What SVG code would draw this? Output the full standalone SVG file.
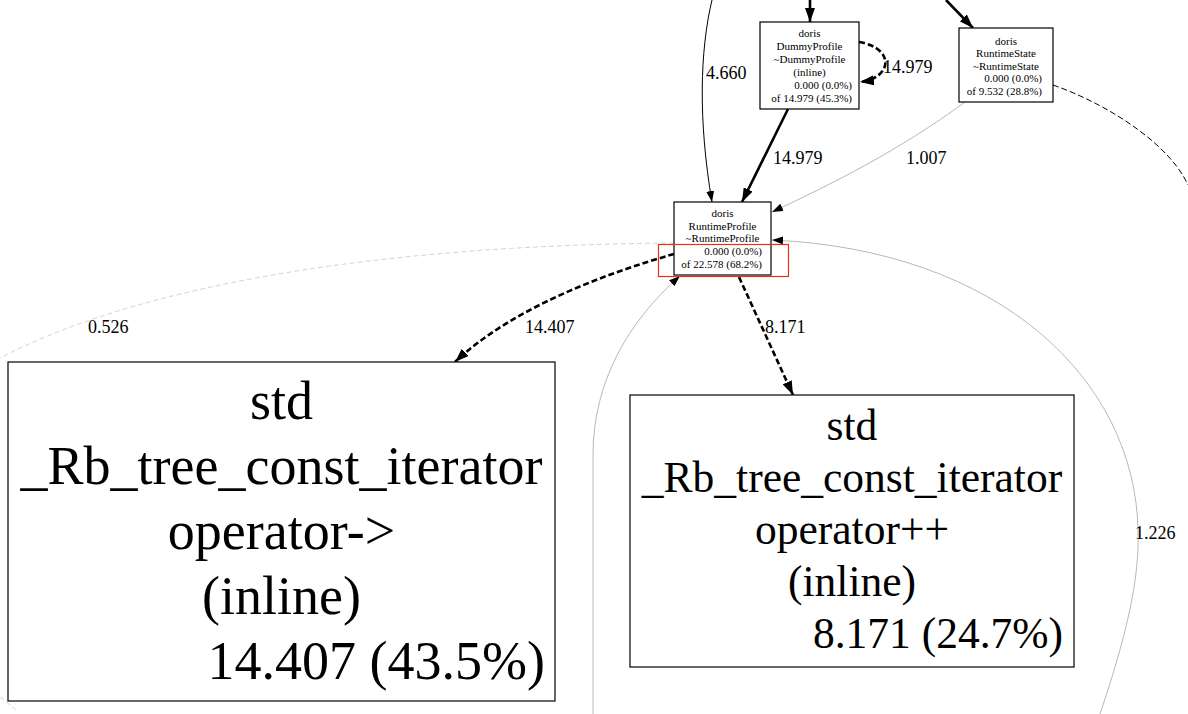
<svg xmlns="http://www.w3.org/2000/svg" width="1188" height="714" viewBox="0 0 1188 714">
<style>
text{font-family:"Liberation Serif","Times New Roman",serif;fill:#000}
.n{font-size:11px}
.c{text-anchor:middle}
.r{text-anchor:end}
.lbl{font-size:18px}
.box{fill:#fff;stroke:#000;stroke-width:1.2}
.e{fill:none;stroke:#000;stroke-width:1}
.thick{fill:none;stroke:#000;stroke-width:2.6}
.dash{stroke-dasharray:6,3}
.gray{fill:none;stroke:#b8b8b8;stroke-width:1}
.lgray{fill:none;stroke:#d4d4d4;stroke-width:1;stroke-dasharray:5,3}
.big1{font-size:54px}
.big2{font-size:43.5px}
</style>
<defs>
<marker id="ah" viewBox="0 0 11 8" refX="11" refY="4" markerWidth="11" markerHeight="8" markerUnits="userSpaceOnUse" orient="auto"><path d="M0,0 L11,4 L0,8 z" fill="#000"/></marker>
<marker id="ahb" viewBox="0 0 14 10" refX="14" refY="5" markerWidth="14" markerHeight="10" markerUnits="userSpaceOnUse" orient="auto"><path d="M0,0 L14,5 L0,10 z" fill="#000"/></marker>
</defs>
<rect width="1188" height="714" fill="#fff"/>
<g id="edges">
  <path class="thick" d="M810,0 L810,22" marker-end="url(#ahb)"/>
  <path class="thick" d="M946,0 L973,28" marker-end="url(#ahb)"/>
  <path class="e" d="M712,0 C700,50 698,120 712,202" marker-end="url(#ah)"/>
  <text class="lbl" x="706" y="79">4.660</text>
  <path class="thick dash" d="M859,42 C895,48 893,78 860,82" marker-end="url(#ahb)"/>
  <text class="lbl" x="883" y="73">14.979</text>
  <path class="thick" d="M788,109 L742,202" marker-end="url(#ahb)"/>
  <text class="lbl" x="773" y="164">14.979</text>
  <path class="gray" d="M965,102 C900,150 830,185 772,212" marker-end="url(#ah)"/>
  <text class="lbl" x="906" y="164">1.007</text>
  <path class="e dash" d="M1053,85 C1110,105 1170,145 1188,185"/>
  <path class="lgray" d="M674,243 C400,245 150,280 0,358"/>
  <path class="lgray" d="M0,697 Q8,703 16,710"/>
  <text class="lbl" x="88" y="333">0.526</text>
  <path class="thick dash" d="M674,254 C600,275 510,310 455,362" marker-end="url(#ahb)"/>
  <text class="lbl" x="525" y="333">14.407</text>
  <path class="thick dash" d="M739,277 L793,395" marker-end="url(#ahb)"/>
  <text class="lbl" x="765" y="333">8.171</text>
  <path class="gray" d="M593,714 L593,455 C593,380 630,320 680,276" marker-end="url(#ah)"/>
  <path class="gray" d="M1100,714 C1125,640 1140,580 1138,530 C1135,380 1000,250 772,240" marker-end="url(#ah)"/>
  <text class="lbl" x="1135" y="539">1.226</text>
</g>
<g id="node-dummyprofile">
  <rect class="box" x="760" y="22" width="99" height="87"/>
  <text class="n c" x="809.5" y="37">doris</text>
  <text class="n c" x="809.5" y="50">DummyProfile</text>
  <text class="n c" x="809.5" y="63">~DummyProfile</text>
  <text class="n c" x="809.5" y="76">(inline)</text>
  <text class="n r" x="852" y="89">0.000 (0.0%)</text>
  <text class="n r" x="852" y="102">of 14.979 (45.3%)</text>
</g>
<g id="node-runtimestate">
  <rect class="box" x="959" y="28" width="94" height="74"/>
  <text class="n c" x="1006" y="44.5">doris</text>
  <text class="n c" x="1006" y="57">RuntimeState</text>
  <text class="n c" x="1006" y="69.5">~RuntimeState</text>
  <text class="n r" x="1042" y="82">0.000 (0.0%)</text>
  <text class="n r" x="1042" y="94.5">of 9.532 (28.8%)</text>
</g>
<g id="node-runtimeprofile">
  <rect class="box" x="674" y="202" width="97" height="73"/>
  <text class="n c" x="722.5" y="217">doris</text>
  <text class="n c" x="722.5" y="229.5">RuntimeProfile</text>
  <text class="n c" x="722.5" y="242">~RuntimeProfile</text>
  <text class="n r" x="762" y="255">0.000 (0.0%)</text>
  <text class="n r" x="762" y="268">of 22.578 (68.2%)</text>
</g>
<g id="highlight">
  <rect x="658.5" y="244.5" width="130" height="32" fill="none" stroke="#e8301a" stroke-width="1.2"/>
</g>
<g id="node-arrow-op">
  <rect class="box" x="8" y="362" width="547" height="339"/>
  <text class="big1 c" x="281.5" y="419">std</text>
  <text class="big1 c" x="281.5" y="484">_Rb_tree_const_iterator</text>
  <text class="big1 c" x="281.5" y="549">operator-&gt;</text>
  <text class="big1 c" x="281.5" y="614">(inline)</text>
  <text class="big1 r" x="545" y="679">14.407 (43.5%)</text>
</g>
<g id="node-inc-op">
  <rect class="box" x="630" y="395" width="444" height="272"/>
  <text class="big2 c" x="852" y="440">std</text>
  <text class="big2 c" x="852" y="492">_Rb_tree_const_iterator</text>
  <text class="big2 c" x="852" y="544">operator++</text>
  <text class="big2 c" x="852" y="596">(inline)</text>
  <text class="big2 r" x="1063" y="648">8.171 (24.7%)</text>
</g>
</svg>
